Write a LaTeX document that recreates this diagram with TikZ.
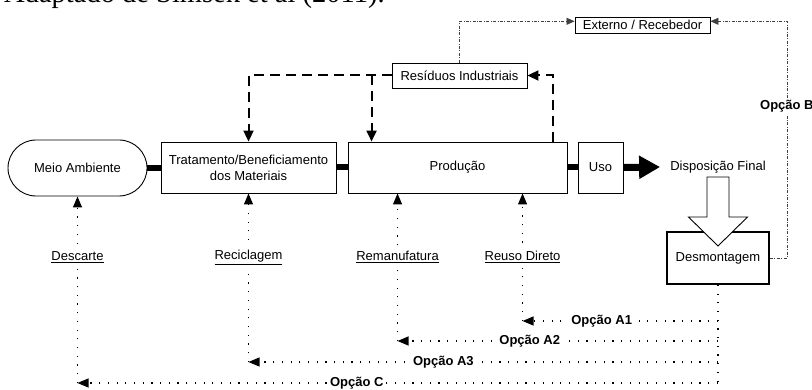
\documentclass[tikz,border=0pt]{standalone}
\usepackage{fontspec}
\setmainfont{Liberation Sans}
\newfontfamily\captionserif{Liberation Serif}
\usetikzlibrary{arrows.meta,calc}
\begin{document}
\begin{tikzpicture}[x=1pt,y=-1pt,
  every node/.style={font=\fontsize{13}{16}\selectfont},
  box/.style={draw,line width=0.9pt,inner sep=0pt,align=center},
  flow/.style={line width=6pt},
  recov/.style={line width=2pt,dash pattern=on 10pt off 6pt,-{Triangle[length=11pt,width=10pt]}},
  extline/.style={line width=0.8pt,draw=black!75,dash pattern=on 3pt off 1.5pt on 0.8pt off 1.5pt,-{Triangle[length=8pt,width=7pt]}},
  dotline/.style={line width=1.2pt,dash pattern=on 1.2pt off 7.5pt},
  dotarrow/.style={dotline,-{Triangle[length=11pt,width=9pt]}},
  optlabel/.style={fill=white,inner sep=2pt,font=\fontsize{13}{16}\selectfont\bfseries},
  routelabel/.style={fill=white,inner sep=2pt},
]
\useasboundingbox (0,0) rectangle (812,390);

% source line, cut by the page edge
\node[anchor=base west,inner sep=0pt,font=\captionserif\fontsize{28.5}{30}\selectfont] (src) at (4,3) {Adaptado de Simsek et al (2011).};

% main chain
\node[box,rounded corners=28pt,minimum width=139pt,minimum height=56pt] (meio) at (77.5,168) {Meio Ambiente};
\node[box,minimum width=175pt,minimum height=51pt] (trat) at (248.5,167.5) {Tratamento/Beneficiamento\\dos Materiais};
\node[box,minimum width=219pt,minimum height=51pt] (prod) at (457.5,167.5) {Produção};
\node[box,minimum width=45pt,minimum height=51pt] (uso) at (600.5,167.5) {Uso};
\node[inner xsep=10pt,inner ysep=2pt] (disp) at (718,167) {Disposição Final};
\node[box,line width=1.8pt,minimum width=102pt,minimum height=52pt] (desm) at (718,258) {Desmontagem};
\node[box,minimum width=135pt,minimum height=16pt] (ext) at (642.5,25.3) {Externo / Recebedor};
\node[box,minimum width=135pt,minimum height=25pt] (resid) at (459.5,75.5) {Resíduos Industriais};

\draw[flow] (meio.east) -- (meio.east -| trat.west);
\draw[flow] (trat.east) -- (prod.west);
\draw[flow] (prod.east) -- (uso.west);
\draw[line width=7pt,-{Triangle[length=21pt,width=22pt]}] (uso.east) -- (disp.west);

% hollow arrow down to the dismantling step
\draw[line width=0.9pt,fill=white] (707,177) -- (729,177) -- (729,217) -- (747.5,217)
  -- (718,246) -- (688.5,217) -- (707,217) -- cycle;

% industrial waste loops
\coordinate (prodOut) at ($(prod.north east)+(-14,0)$);
\coordinate (prodIn) at ($(prod.north west)+(24,0)$);
\draw[recov] (prodOut) |- (resid.east);
\draw[recov] (resid.west) -| (trat.north);
\draw[recov] (prodIn |- resid.west) -- (prodIn);

% external receiver
\coordinate (bR) at ($(desm.east)+(17,0)$);
\draw[extline] (resid.north) |- ($(ext.west)+(0,-4)$);
\draw[extline] (desm.east) -- (bR) |- node[optlabel,pos=0.32]{Opção B} ($(ext.east)+(0,-4)$);

% recovery options
\coordinate (yA1) at (0,321);
\coordinate (yA2) at (0,341);
\coordinate (yA3) at (0,362);
\coordinate (yC) at (0,383);
\coordinate (xRe) at ($(prod.south west)+(50,0)$);
\coordinate (xRu) at ($(prod.south west)+(175,0)$);

\draw[dotline] (desm.south) -- (desm.south |- yC);

\draw[dotarrow] (desm.south |- yA1) -- node[optlabel,pos=0.595]{Opção A1} (xRu |- yA1);
\draw[dotarrow] (desm.south |- yA2) -- node[optlabel,pos=0.5875]{Opção A2} (xRe |- yA2);
\draw[dotarrow] (desm.south |- yA3) -- node[optlabel,pos=0.585]{Opção A3} (trat.south |- yA3);
\draw[dotarrow] (desm.south |- yC) -- node[optlabel,pos=0.564]{Opção C} (meio.south |- yC);

\draw[dotarrow] (xRu |- yA1) -- node[routelabel,pos=0.5]{\underline{Reuso Direto}} (xRu);
\draw[dotarrow] (xRe |- yA2) -- node[routelabel,pos=0.568]{\underline{Remanufatura}} (xRe);
\draw[dotarrow] (trat.south |- yA3) -- node[routelabel,pos=0.621]{\underline{Reciclagem}} (trat.south);
\draw[dotarrow] (meio.south |- yC) -- node[routelabel,pos=0.674]{\underline{Descarte}} (meio.south);
\end{tikzpicture}
\end{document}
